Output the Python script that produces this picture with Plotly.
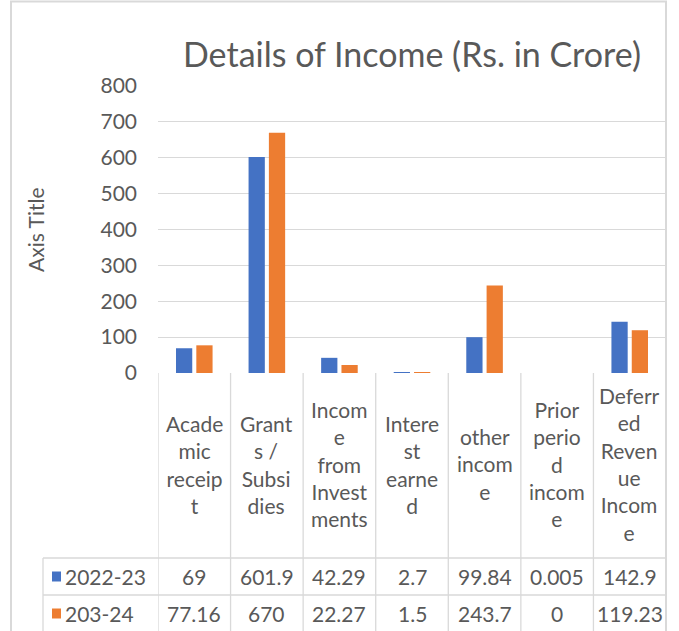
import plotly.graph_objects as go

# ---- data ----
categories = ["Academic receipt", "Grants / Subsidies", "Income from Investments",
              "Interest earned", "other income", "Prior period income",
              "Deferred Revenue Income"]
category_labels = ["Acade<br>mic<br>receip<br>t", "Grant<br>s /<br>Subsi<br>dies",
                   "Incom<br>e<br>from<br>Invest<br>ments", "Intere<br>st<br>earne<br>d",
                   "other<br>incom<br>e", "Prior<br>perio<br>d<br>incom<br>e",
                   "Deferr<br>ed<br>Reven<br>ue<br>Incom<br>e"]
series_names = ["2022-23", "203-24"]
values_2022_23 = [69, 601.9, 42.29, 2.7, 99.84, 0.005, 142.9]
values_2023_24 = [77.16, 670, 22.27, 1.5, 243.7, 0, 119.23]
y_ticks = [0, 100, 200, 300, 400, 500, 600, 700, 800]

colors = ["#4472C4", "#ED7D31"]
series_values = [values_2022_23, values_2023_24]
text_color = "#595959"
grid_color = "#D9D9D9"
FONT = "Lato"

W, H = 679, 631
ML, MR, MT, MB = 158, 13, 86, 258
plot_w = W - ML - MR
plot_h = H - MT - MB

def px_to_paper_x(px):
    return (px - ML) / plot_w

def px_to_paper_y(py):
    return (H - MB - py) / plot_h

fig = go.Figure()
for name, vals, col in zip(series_names, series_values, colors):
    fig.add_trace(go.Bar(x=list(range(len(categories))), y=vals, name=name,
                         marker=dict(color=col, line=dict(width=0)),
                         hovertext=categories))

shapes = []
line_style = dict(color=grid_color, width=1.3)
# outer chart border
shapes.append(dict(type="rect", xref="paper", yref="paper",
                   x0=px_to_paper_x(11), x1=px_to_paper_x(666),
                   y0=px_to_paper_y(660), y1=px_to_paper_y(1.5),
                   line=dict(color=grid_color, width=2), layer="below"))
n = len(categories)
row_tops = [558, 595, 632]
y_bottom = px_to_paper_y(640)
# vertical cell borders at category boundaries
for k in range(n + 1):
    shapes.append(dict(type="line", xref="x", yref="paper", x0=k - 0.5, x1=k - 0.5,
                       y0=px_to_paper_y(373), y1=y_bottom, line=line_style))
# legend column left border
shapes.append(dict(type="line", xref="paper", yref="paper",
                   x0=px_to_paper_x(43), x1=px_to_paper_x(43),
                   y0=px_to_paper_y(558), y1=y_bottom, line=line_style))
# horizontal row borders
for ry in row_tops:
    shapes.append(dict(type="line", xref="paper", yref="paper",
                       x0=px_to_paper_x(43), x1=1,
                       y0=px_to_paper_y(ry), y1=px_to_paper_y(ry), line=line_style))

annotations = []
# category labels in header cells
for k, lab in enumerate(category_labels):
    annotations.append(dict(x=k, y=px_to_paper_y(464), xref="x", yref="paper",
                            text=lab, showarrow=False, xanchor="center", yanchor="middle",
                            font=dict(family=FONT, size=21, color=text_color)))
# data rows
row_centers = [576.5, 613.5]
for name, vals, col, rc in zip(series_names, series_values, colors, row_centers):
    shapes.append(dict(type="rect", xref="paper", yref="paper",
                       x0=px_to_paper_x(52), x1=px_to_paper_x(61),
                       y0=px_to_paper_y(rc + 5), y1=px_to_paper_y(rc - 5),
                       fillcolor=col, line=dict(width=0)))
    annotations.append(dict(x=px_to_paper_x(63), y=px_to_paper_y(rc), xref="paper",
                            yref="paper", text=name, showarrow=False, xanchor="left",
                            yanchor="middle",
                            font=dict(family=FONT, size=21, color=text_color)))
    for k, v in enumerate(vals):
        annotations.append(dict(x=k, y=px_to_paper_y(rc), xref="x", yref="paper",
                                text=f"{v:g}", showarrow=False, xanchor="center",
                                yanchor="middle",
                                font=dict(family=FONT, size=21, color=text_color)))
# axis title
annotations.append(dict(x=px_to_paper_x(35), y=px_to_paper_y(230), xref="paper",
                        yref="paper", text="Axis Title", textangle=-90, showarrow=False,
                        xanchor="center", yanchor="middle",
                        font=dict(family=FONT, size=21, color=text_color)))

fig.update_layout(
    width=W, height=H,
    margin=dict(l=ML, r=MR, t=MT, b=MB, pad=0),
    paper_bgcolor="white", plot_bgcolor="white",
    showlegend=False,
    barmode="group", bargap=0.44, bargroupgap=0.2,
    title=dict(text="Details of Income (Rs. in Crore)", x=px_to_paper_x(412),
               xref="paper", xanchor="center", y=1 - 55 / H, yanchor="middle",
               font=dict(family=FONT, size=34, color=text_color)),
    xaxis=dict(range=[-0.5, n - 0.5], showticklabels=False, showgrid=False,
               zeroline=False, showline=False, ticks=""),
    yaxis=dict(range=[0, 800], tickvals=y_ticks, showgrid=True, gridcolor=grid_color,
               gridwidth=1.3, zeroline=False, showline=False, ticks="",
               ticklabelstandoff=20,
               tickfont=dict(family=FONT, size=21, color=text_color)),
    shapes=shapes, annotations=annotations,
)

fig.write_html("out.html", config={"displayModeBar": False},
               post_script="document.body.style.margin='0';document.body.style.overflow='hidden';")
